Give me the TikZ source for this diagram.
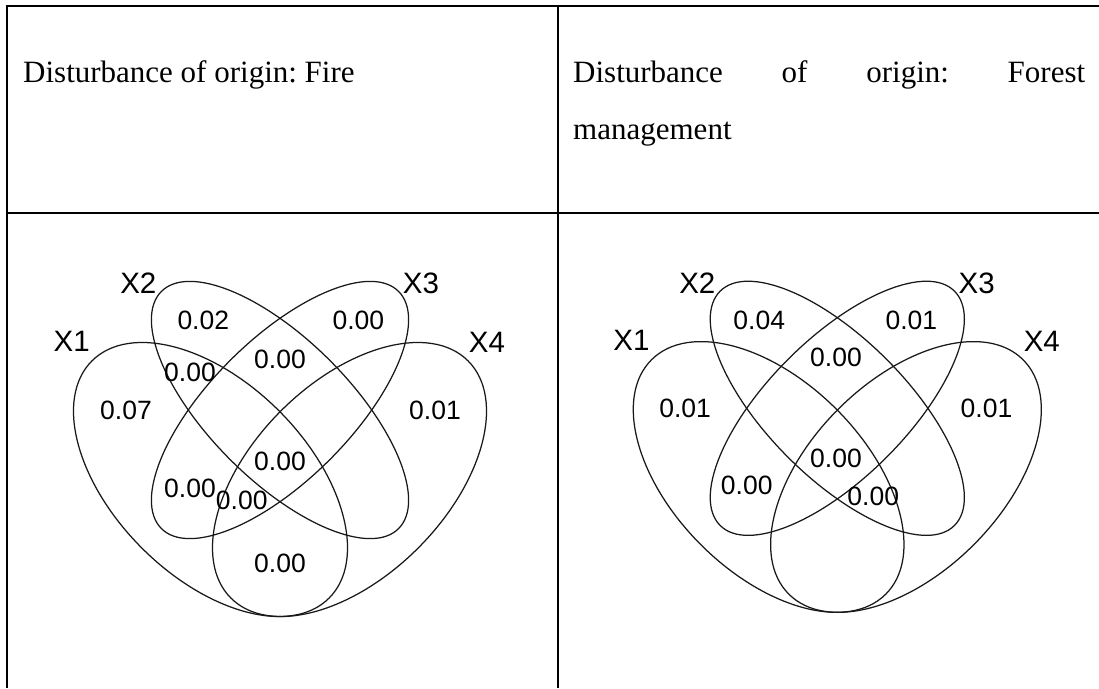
\documentclass[tikz,border=0pt]{standalone}
\usepackage{fontspec}
\setmainfont{Liberation Serif}
\newfontfamily\plotfont{Liberation Sans}
\frenchspacing
\newcommand{\vennsets}[1]{%
  \draw[setline,rotate around={-45:(-69.5,-69.5)}] (-69.5,-69.5) ellipse [x radius=167.7,y radius=97];
  \draw[setline,rotate around={-45:(0,0)}] (0,0) ellipse [x radius=167.7,y radius=70.3];
  \draw[setline,rotate around={45:(0,0)}] (0,0) ellipse [x radius=167.7,y radius=70.3];
  \draw[setline,rotate around={45:(69.5,-69.5)}] (69.5,-69.5) ellipse [x radius=167.7,y radius=97];
  \node[setname] (#1x1) at (-208.3,68.3) {X1};
  \node[setname] (#1x2) at (-141.7,126.7) {X2};
  \node[setname] (#1x3) at (141,126.7) {X3};
  \node[setname] (#1x4) at (207,68) {X4};
}

\begin{document}
\begin{tikzpicture}[
    x=1pt,y=1pt,
    gridline/.style={line width=2.2pt,black},
    setline/.style={line width=1.25pt,black!90},
    head/.style={inner sep=0pt,font=\fontsize{31}{56.6}\selectfont},
    setname/.style={inner sep=0pt,font=\plotfont\fontsize{29.5}{32}\selectfont},
    val/.style={inner sep=0pt,font=\plotfont\fontsize{26.5}{30}\selectfont}
  ]
    \useasboundingbox (0,0) rectangle (1099,688);

    % table rules
    \draw[gridline] (5.9,682) -- (1099,682);
    \draw[gridline] (5.9,475) -- (1099,475);
    \draw[gridline] (7,683.1) -- (7,0);
    \draw[gridline] (558,683.1) -- (558,0);

    % header cells
    \node[head,anchor=base west] (firehead) at (23,605.3) {Disturbance of origin: Fire};
    \node[head,anchor=base west,text width=512pt,align=left] (mgmthead) at (573,605.3)
      {Disturbance\hfill of\hfill origin:\hfill Forest\\management};

    % fire
    \begin{scope}[shift={(280,278)}]
      \vennsets{fire}
      \node[val] (fire1) at (-154,0) {0.07};
      \node[val] (fire2) at (-76.7,90) {0.02};
      \node[val] (fire3) at (78.3,90) {0.00};
      \node[val] (fire4) at (155,0) {0.01};
      \node[val] (fire23) at (0,50.7) {0.00};
      \node[val] (fire12) at (-90,37.3) {0.00};
      \node[val] (fire1234) at (0,-51.7) {0.00};
      \node[val] (fire13) at (-90,-78.3) {0.00};
      \node[val] (fire134) at (-38.3,-90) {0.00};
      \node[val] (fire14) at (0,-153.3) {0.00};
    \end{scope}

    % forest management
    \begin{scope}[shift={(837.3,279.7)},scale=0.988]
      \vennsets{mgmt}
      \node[val] (mgmt1) at (-154,0) {0.01};
      \node[val] (mgmt2) at (-79,89.4) {0.04};
      \node[val] (mgmt3) at (75,89.4) {0.01};
      \node[val] (mgmt4) at (151,0) {0.01};
      \node[val] (mgmt23) at (-1.3,51.6) {0.00};
      \node[val] (mgmt1234) at (-1.3,-50.6) {0.00};
      \node[val] (mgmt13) at (-91.7,-77.6) {0.00};
      \node[val] (mgmt124) at (36.4,-89.5) {0.00};
    \end{scope}
  \end{tikzpicture}
\end{document}
